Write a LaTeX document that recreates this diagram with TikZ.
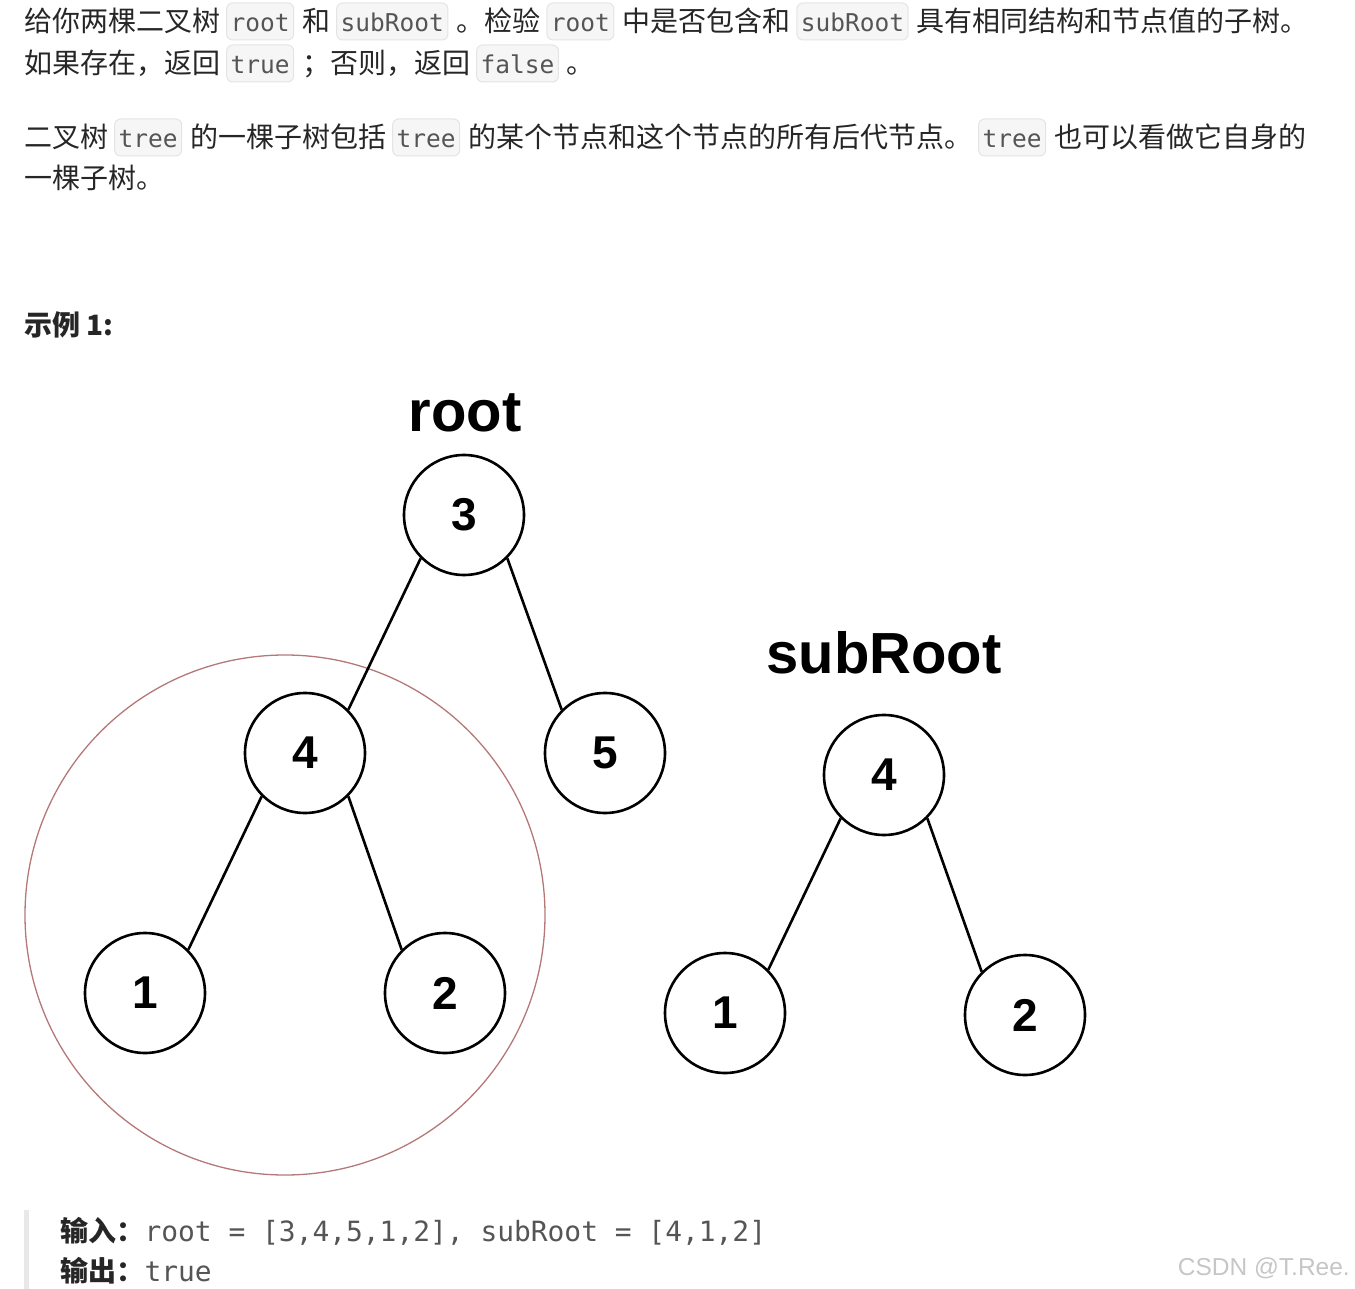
\documentclass[tikz,border=0pt]{standalone}
\usepackage{fontspec}
\usepackage{tikz}
\usetikzlibrary{positioning}
\setmainfont{Noto Sans CJK SC}
\setmonofont{DejaVu Sans Mono}
\newfontfamily\treefont{Liberation Sans}
\definecolor{ink}{HTML}{262626}
\definecolor{codebg}{HTML}{F6F6F6}
\definecolor{codeline}{HTML}{E4E4E4}
\definecolor{codeink}{HTML}{555555}
\definecolor{ring}{HTML}{B47878}
\definecolor{quotebar}{HTML}{E8E8E8}
\definecolor{wmark}{HTML}{C6C6C6}
\tikzset{
  codebox/.style={rectangle,anchor=center,draw=codeline,fill=codebg,line width=1pt,rounded corners=6pt,
    inner xsep=4pt,inner ysep=5pt,text height=24pt,text depth=3pt,text=codeink,
    font=\ttfamily\fontsize{24.5}{25}\selectfont},
  textline/.style={anchor=base west,inner sep=0pt,text=ink,font=\fontsize{28}{40}\selectfont},
  treenode/.style={circle,draw,line width=2.6pt,minimum size=120pt,inner sep=0pt,
    font=\treefont\bfseries\fontsize{46}{46}\selectfont},
  treelabel/.style={inner sep=0pt,font=\treefont\bfseries\fontsize{58}{58}\selectfont},
  edge/.style={line width=2.6pt},
}
\newcommand{\code}[1]{\hspace{6pt}\tikz[baseline=(c.base)]\node[codebox](c){#1};\hspace{8pt}}

\begin{document}
\begin{tikzpicture}[x=1pt,y=-1pt]
\useasboundingbox (0,0) rectangle (1355,1289);
% statement
\node[textline] (l1) at (24,32) {给你两棵二叉树\code{root}和\code{subRoot}。检验\code{root}中是否包含和\code{subRoot}具有相同结构和节点值的子树。};
\node[textline] (l2) at (24,74) {如果存在，返回\code{true}；否则，返回\code{false}。};
\node[textline] (l3) at (24,148) {二叉树\code{tree}的一棵子树包括\code{tree}的某个节点和这个节点的所有后代节点。\code{tree}也可以看做它自身的};
\node[textline] (l4) at (24,189) {一棵子树。};
\node[textline,font=\bfseries\fontsize{28}{30}\selectfont] (ex) at (24,336) {示例 1:};
% highlight of the matching subtree
\node[circle,draw=ring,line width=1.3pt,minimum size=520pt,inner sep=0pt] (hl) at (285,915) {};
% root tree
\node[treelabel] (rootlbl) at (465,413) {root};
\node[treenode] (r3) at (464,515) {3};
\node[treenode] (r4) at (305,753) {4};
\node[treenode] (r5) at (605,753) {5};
\node[treenode] (r1) at (145,993) {1};
\node[treenode] (r2) at (445,993) {2};
\draw[edge] (r3.225)--(r4.45);
\draw[edge] (r3.315)--(r5.135);
\draw[edge] (r4.225)--(r1.45);
\draw[edge] (r4.315)--(r2.135);
% subRoot tree
\node[treelabel] (sublbl) at (884,653) {subRoot};
\node[treenode] (s4) at (884,775) {4};
\node[treenode] (s1) at (725,1013) {1};
\node[treenode] (s2) at (1025,1015) {2};
\draw[edge] (s4.225)--(s1.45);
\draw[edge] (s4.315)--(s2.135);
% example block
\fill[quotebar] (24,1210) rectangle (29,1289);
\node[textline,font=\bfseries\fontsize{28}{30}\selectfont] (in) at (60,1241) {输入：};
\node[textline,font=\ttfamily\fontsize{27.9}{30}\selectfont,text=codeink,anchor=base west] (inval) at (in.base east) {root = [3,4,5,1,2], subRoot = [4,1,2]};
\node[textline,font=\bfseries\fontsize{28}{30}\selectfont] (out) at (60,1281) {输出：};
\node[textline,font=\ttfamily\fontsize{27.9}{30}\selectfont,text=codeink,anchor=base west] (outval) at (out.base east) {true};
\node[anchor=base east,inner sep=0pt,text=wmark,font=\treefont\fontsize{24.5}{26}\selectfont] (wm) at (1350,1275) {CSDN @T.Ree.};
\end{tikzpicture}
\end{document}
